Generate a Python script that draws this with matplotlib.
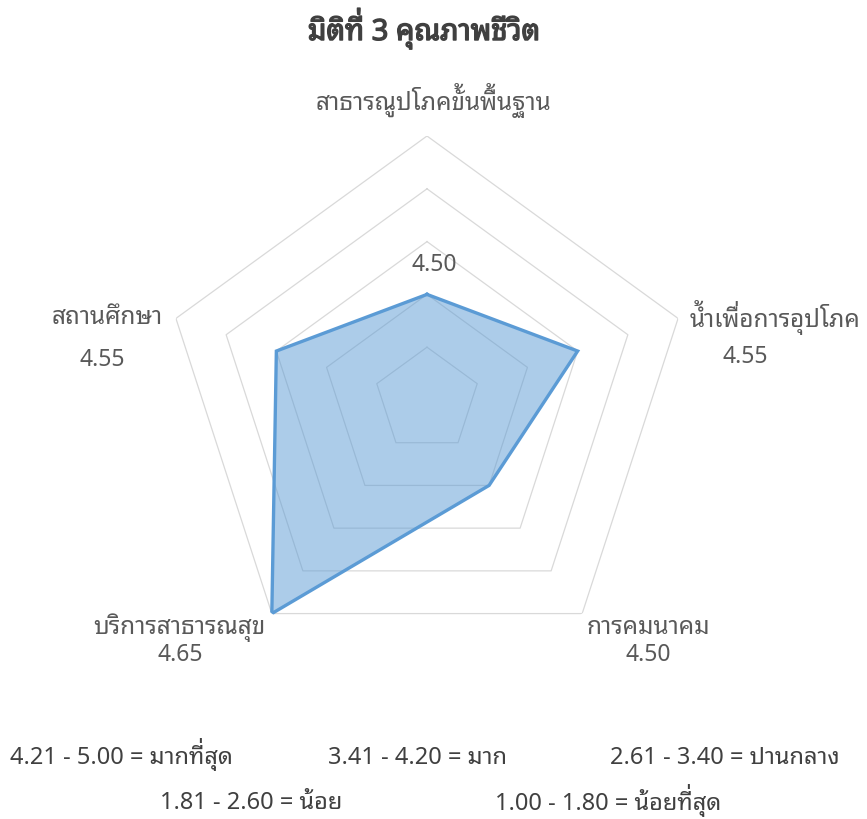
import numpy as np
import matplotlib
matplotlib.use("Agg")
import matplotlib.pyplot as plt
import matplotlib.patheffects as pe
from matplotlib import font_manager
from matplotlib.ft2font import FT2Font
from matplotlib.transforms import IdentityTransform

# data
categories = ["สาธารณูปโภคขั้นพื้นฐาน", "น้ำเพื่อการอุปโภค", "การคมนาคม",
              "บริการสาธารณสุข", "สถานศึกษา"]
values = [4.50, 4.55, 4.50, 4.65, 4.55]
r_ticks = [4.45, 4.50, 4.55, 4.60, 4.65]
r_min = 4.40
title = "มิติที่ 3 คุณภาพชีวิต"
scale_lines = [
    ["4.21 - 5.00 = มากที่สุด", "3.41 - 4.20 = มาก", "2.61 - 3.40 = ปานกลาง"],
    ["1.81 - 2.60 = น้อย", "1.00 - 1.80 = น้อยที่สุด"],
]


def thai_fonts():
    # find installed families that actually have Thai glyphs
    names = []
    for f in font_manager.fontManager.ttflist:
        try:
            if 0x0E01 in FT2Font(f.fname).get_charmap():
                names.append(f.name)
        except Exception:
            pass
    return sorted(set(names))


found = thai_fonts()
prefer = ["Noto Sans Thai Looped", "Noto Sans Thai", "Leelawadee UI", "Tahoma",
          "Loma", "Garuda", "Norasi", "Waree"]
thai = [n for n in prefer if n in found] + [n for n in found if n not in prefer]
plt.rcParams["font.family"] = thai[:1] + ["DejaVu Sans"]

fig = plt.figure(figsize=(8.67, 8.2), dpi=100)
W, H = 867, 820
renderer = fig.canvas.get_renderer()


def fx(px):
    return px / W


def fy(py):
    return 1 - py / H


# matplotlib does no Thai shaping, so a tone mark after an upper vowel
# (or before sara am) lands on top of it; pull those out and draw them raised
UPPER = "\u0e31\u0e34\u0e35\u0e36\u0e37\u0e47\u0e4d"
TONES = "\u0e48\u0e49\u0e4a\u0e4b\u0e4c"


def split_marks(s):
    base, marks = "", []
    for i, ch in enumerate(s):
        after_upper = i > 0 and s[i - 1] in UPPER
        before_am = i + 1 < len(s) and s[i + 1] == "\u0e33"
        if ch in TONES and (after_upper or before_am):
            marks.append((base, ch))
        else:
            base += ch
    return base, marks


def thai_text(px, py, s, ha="center", **kw):
    base, marks = split_marks(s)
    t = fig.text(fx(px), fy(py), base, ha=ha, va="center", **kw)
    if not marks:
        return t
    bb = t.get_window_extent(renderer)
    probe = fig.text(fx(px), fy(py), base, ha=ha, va="baseline", **kw)
    pb = probe.get_window_extent(renderer)
    probe.remove()
    y0 = fig.transFigure.transform((0, fy(py)))[1]
    baseline = 2 * y0 - (pb.y0 + pb.y1) / 2
    size_px = t.get_fontsize() * fig.dpi / 72
    for prefix, mark in marks:
        p = fig.text(0, 0, prefix, **kw)
        w = p.get_window_extent(renderer).width
        p.remove()
        fig.text(bb.x0 + w - 0.05 * size_px, baseline + 0.24 * size_px, mark,
                 ha="right", va="baseline", transform=IdentityTransform(), **kw)
    return t


# polar axes centred on (427, 401) px with outer radius 264 px
cx, cy, R = 427, 401, 264
ax = fig.add_axes([fx(cx - R), fy(cy + R), 2 * R / W, 2 * R / H], projection="polar")
ax.set_theta_zero_location("N")
ax.set_theta_direction(-1)
ax.set_ylim(r_min, r_ticks[-1])
ax.grid(False)
ax.spines["polar"].set_visible(False)
ax.set_xticks([])
ax.set_yticks([])

theta = np.linspace(0, 2 * np.pi, len(categories), endpoint=False)
theta_c = np.append(theta, theta[0])

# pentagon grid
for t in r_ticks:
    ax.plot(theta_c, [t] * len(theta_c), color="#d9d9d9", lw=0.9, zorder=1)

vals_c = values + values[:1]
ax.fill(theta_c, vals_c, color="#5b9bd5", alpha=0.5, lw=0, zorder=2)
ax.plot(theta_c, vals_c, color="#5b9bd5", lw=2.4, zorder=3, solid_joinstyle="miter")

# title: fake bold with a thin stroke (Thai font may lack a bold face)
bold = [pe.withStroke(linewidth=1.0, foreground="#404040")]
thai_text(424, 33, title, fontsize=21, color="#404040", path_effects=bold)

text_col = "#595959"
cat_pos = [(433, 103), (775, 320), (648, 628), (179, 628), (107, 318)]
val_pos = [(434, 265), (745, 357), (648, 655), (180, 655), (102, 360)]
for name, v, (px, py), (vx, vy) in zip(categories, values, cat_pos, val_pos):
    thai_text(px, py, name, fontsize=17.5, color=text_col)
    fig.text(fx(vx), fy(vy), f"{v:.2f}", ha="center", va="center", fontsize=16.5, color=text_col)

legend_pos = [[(10, 758), (328, 758), (610, 758)], [(160, 803), (495, 803)]]
for row, pos in zip(scale_lines, legend_pos):
    for s, (px, py) in zip(row, pos):
        thai_text(px, py, s, ha="left", fontsize=17, color="#404040")

fig.savefig("out.png", dpi=100)
